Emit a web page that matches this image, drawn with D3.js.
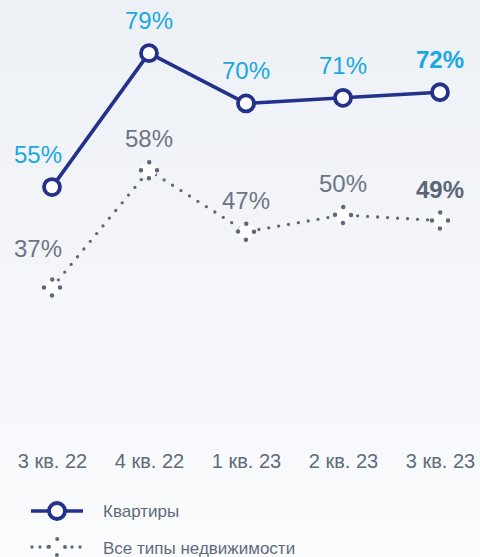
<!DOCTYPE html>
<html><head><meta charset="utf-8">
<script src="https://cdn.jsdelivr.net/npm/d3@7"></script>
<style>html,body{margin:0;padding:0;background:#fff;}svg{display:block;}</style>
</head><body>
<svg id="chart" width="480" height="557"></svg>
<script>
const categories = ["3 кв. 22","4 кв. 22","1 кв. 23","2 кв. 23","3 кв. 23"];
const flats = [55, 79, 70, 71, 72];
const allTypes = [37, 58, 47, 50, 49];
const seriesNames = ["Квартиры","Все типы недвижимости"];

const W = 480, H = 557;
const svg = d3.select("#chart");
const font = "'Liberation Sans', Arial, sans-serif";

const defs = svg.append("defs");
const grad = defs.append("linearGradient").attr("id","bg").attr("x1",0).attr("y1",0).attr("x2",0).attr("y2",1);
grad.append("stop").attr("offset","0%").attr("stop-color","#edf0f5");
grad.append("stop").attr("offset","100%").attr("stop-color","#fafbfd");
svg.append("rect").attr("width",W).attr("height",H).attr("fill","url(#bg)");

const x = d3.scalePoint().domain(categories).range([52, 440]);
const y = d3.scaleLinear().domain([0, 80]).range([494, 494 - 80*5.58]);

const navy = "#23318c", cyan = "#19a8e3", grey = "#5d6979";

// x axis labels
const xAxis = d3.axisBottom(x).tickSize(0).tickPadding(0);
const gx = svg.append("g").attr("transform","translate(0,452)").call(xAxis);
gx.select(".domain").remove();
gx.selectAll("text").attr("font-family",font).attr("font-size",20).attr("fill","#5f6b7a").attr("dy","0.8em");

// all types dotted line
const line = d3.line().x((d,i)=>x(categories[i])).y(d=>y(d));
svg.append("path").datum(allTypes).attr("d",line).attr("fill","none")
  .attr("stroke",grey).attr("stroke-width",3.3).attr("stroke-linecap","round").attr("stroke-dasharray","0 10");
const dotR = 8;
const dotDash = "0 " + (2*Math.PI*dotR/4);
svg.selectAll(".mAll").data(allTypes).join("circle").attr("class","mAll")
  .attr("cx",(d,i)=>x(categories[i])).attr("cy",d=>y(d)).attr("r",dotR)
  .attr("fill","#fff").attr("stroke",grey).attr("stroke-width",4.5)
  .attr("stroke-linecap","round").attr("stroke-dasharray",dotDash);

// flats line
svg.append("path").datum(flats).attr("d",line).attr("fill","none")
  .attr("stroke",navy).attr("stroke-width",3.6).attr("stroke-linejoin","round");
svg.selectAll(".mFlat").data(flats).join("circle").attr("class","mFlat")
  .attr("cx",(d,i)=>x(categories[i])).attr("cy",d=>y(d)).attr("r",8)
  .attr("fill","#fff").attr("stroke",navy).attr("stroke-width",3.8);

// labels
const last = categories.length - 1;
svg.selectAll(".lFlat").data(flats).join("text").attr("class","lFlat")
  .attr("x",(d,i)=>x(categories[i]) - (i===0?14:0))
  .attr("y",d=>y(d)-24)
  .attr("text-anchor","middle").attr("font-family",font).attr("font-size",24)
  .attr("font-weight",(d,i)=>i===last?"bold":"normal")
  .attr("fill",cyan).text(d=>d+"%");
svg.selectAll(".lAll").data(allTypes).join("text").attr("class","lAll")
  .attr("x",(d,i)=>x(categories[i]) - (i===0?14:0))
  .attr("y",(d,i)=>y(d)-(i===0?31:23))
  .attr("text-anchor","middle").attr("font-family",font).attr("font-size",24)
  .attr("font-weight",(d,i)=>i===last?"bold":"normal")
  .attr("fill",(d,i)=>i===last?"#5a6676":"#6b7685").text(d=>d+"%");

// legend
const lg = svg.append("g");
lg.append("line").attr("x1",31).attr("x2",83).attr("y1",511).attr("y2",511).attr("stroke",navy).attr("stroke-width",3.6);
lg.append("circle").attr("cx",57).attr("cy",511).attr("r",8).attr("fill","#fff").attr("stroke",navy).attr("stroke-width",3.8);
lg.append("text").attr("x",103).attr("y",517).attr("font-family",font).attr("font-size",17).attr("fill","#5f6b7b").text(seriesNames[0]);
lg.append("line").attr("x1",32).attr("x2",84).attr("y1",547).attr("y2",547).attr("stroke",grey).attr("stroke-width",3.3)
  .attr("stroke-linecap","round").attr("stroke-dasharray","0 8");
lg.append("circle").attr("cx",57).attr("cy",547).attr("r",dotR).attr("fill","#fff").attr("stroke",grey).attr("stroke-width",4)
  .attr("stroke-linecap","round").attr("stroke-dasharray",dotDash);
lg.append("text").attr("x",103).attr("y",554).attr("font-family",font).attr("font-size",17).attr("fill","#5f6b7b").text(seriesNames[1]);
</script>
</body></html>
